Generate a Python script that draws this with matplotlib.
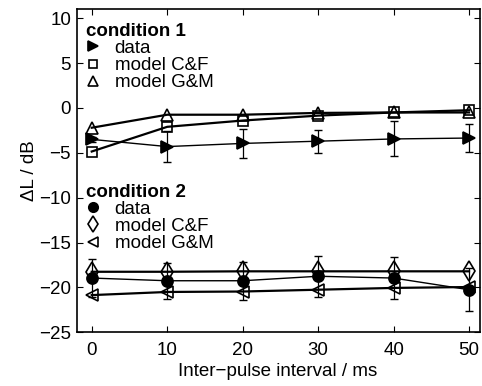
import numpy as np
import matplotlib
matplotlib.use("Agg")
import matplotlib.pyplot as plt

plt.rcParams["font.family"] = ["Liberation Sans", "DejaVu Sans"]
plt.rcParams["font.size"] = 13.5

ipi = np.array([0, 10, 20, 30, 40, 50])

# condition 1
c1_data = np.array([-3.5, -4.3, -3.95, -3.7, -3.45, -3.35])
c1_err = np.array([0.3, 1.7, 1.6, 1.3, 1.95, 1.6])
c1_cf = np.array([-4.85, -2.1, -1.4, -0.85, -0.5, -0.25])
c1_gm = np.array([-2.2, -0.75, -0.75, -0.55, -0.5, -0.5])

# condition 2
c2_data = np.array([-18.95, -19.25, -19.25, -18.75, -18.95, -20.25])
c2_err = np.array([2.1, 2.0, 2.1, 2.3, 2.3, 2.4])
c2_cf = np.array([-18.25, -18.25, -18.2, -18.2, -18.2, -18.2])
c2_gm = np.array([-20.85, -20.5, -20.45, -20.25, -20.05, -19.95])

labels = ["data", "model C&F", "model G&M"]

fig = plt.figure(figsize=(4.82, 3.86), dpi=100)
ax = fig.add_axes([0.159, 0.139, 0.836, 0.837])

ms = 8
mkw = dict(color="k", markeredgecolor="k", markeredgewidth=1.2)

ax.errorbar(ipi, c1_data, yerr=c1_err, fmt="none", ecolor="k", elinewidth=0.9, capsize=3)
l1, = ax.plot(ipi, c1_data, marker=">", ms=ms, lw=1.0, markerfacecolor="k", **mkw)
l2, = ax.plot(ipi, c1_cf, marker="s", ms=ms - 1, lw=1.6, markerfacecolor="none", **mkw)
l3, = ax.plot(ipi, c1_gm, marker="^", ms=ms + 1, lw=1.6, markerfacecolor="none", **mkw)

ax.errorbar(ipi, c2_data, yerr=c2_err, fmt="none", ecolor="k", elinewidth=0.9, capsize=3)
l4, = ax.plot(ipi, c2_data, marker="o", ms=ms, lw=1.0, markerfacecolor="k", **mkw)
l5, = ax.plot(ipi, c2_cf, marker="d", ms=ms + 2, lw=1.6, markerfacecolor="none", **mkw)
l6, = ax.plot(ipi, c2_gm, marker="<", ms=ms + 1, lw=1.6, markerfacecolor="none", **mkw)

ax.set_xlim(-2, 51.4)
ax.set_ylim(-25, 11)
ax.set_xticks(ipi)
ax.set_yticks(np.arange(-25, 11, 5))
ax.tick_params(direction="in", top=True, right=True, length=4, width=0.8)
ax.tick_params(axis="x", pad=7)
ax.tick_params(axis="y", pad=4)
for s in ax.spines.values():
    s.set_linewidth(1.2)

ax.set_xlabel("Inter\u2212pulse interval / ms", labelpad=3)
ax.set_ylabel("\u0394L / dB", labelpad=1)

leg_kw = dict(frameon=False, loc="upper left", handlelength=0.8, handletextpad=0.75,
              labelspacing=0.0, borderaxespad=0.0, borderpad=0.0, alignment="left",
              markerscale=0.85)

leg1 = ax.legend([l1, l2, l3], labels, title="condition 1",
                 bbox_to_anchor=(0.022, 0.958), **leg_kw)
leg1.get_title().set_fontweight("bold")
for ln in leg1.get_lines():
    ln.set_linestyle("none")
ax.add_artist(leg1)

leg2 = ax.legend([l4, l5, l6], labels, title="condition 2",
                 bbox_to_anchor=(0.022, 0.46), **leg_kw)
leg2.get_title().set_fontweight("bold")
for ln in leg2.get_lines():
    ln.set_linestyle("none")

fig.savefig("out.png", dpi=100)
